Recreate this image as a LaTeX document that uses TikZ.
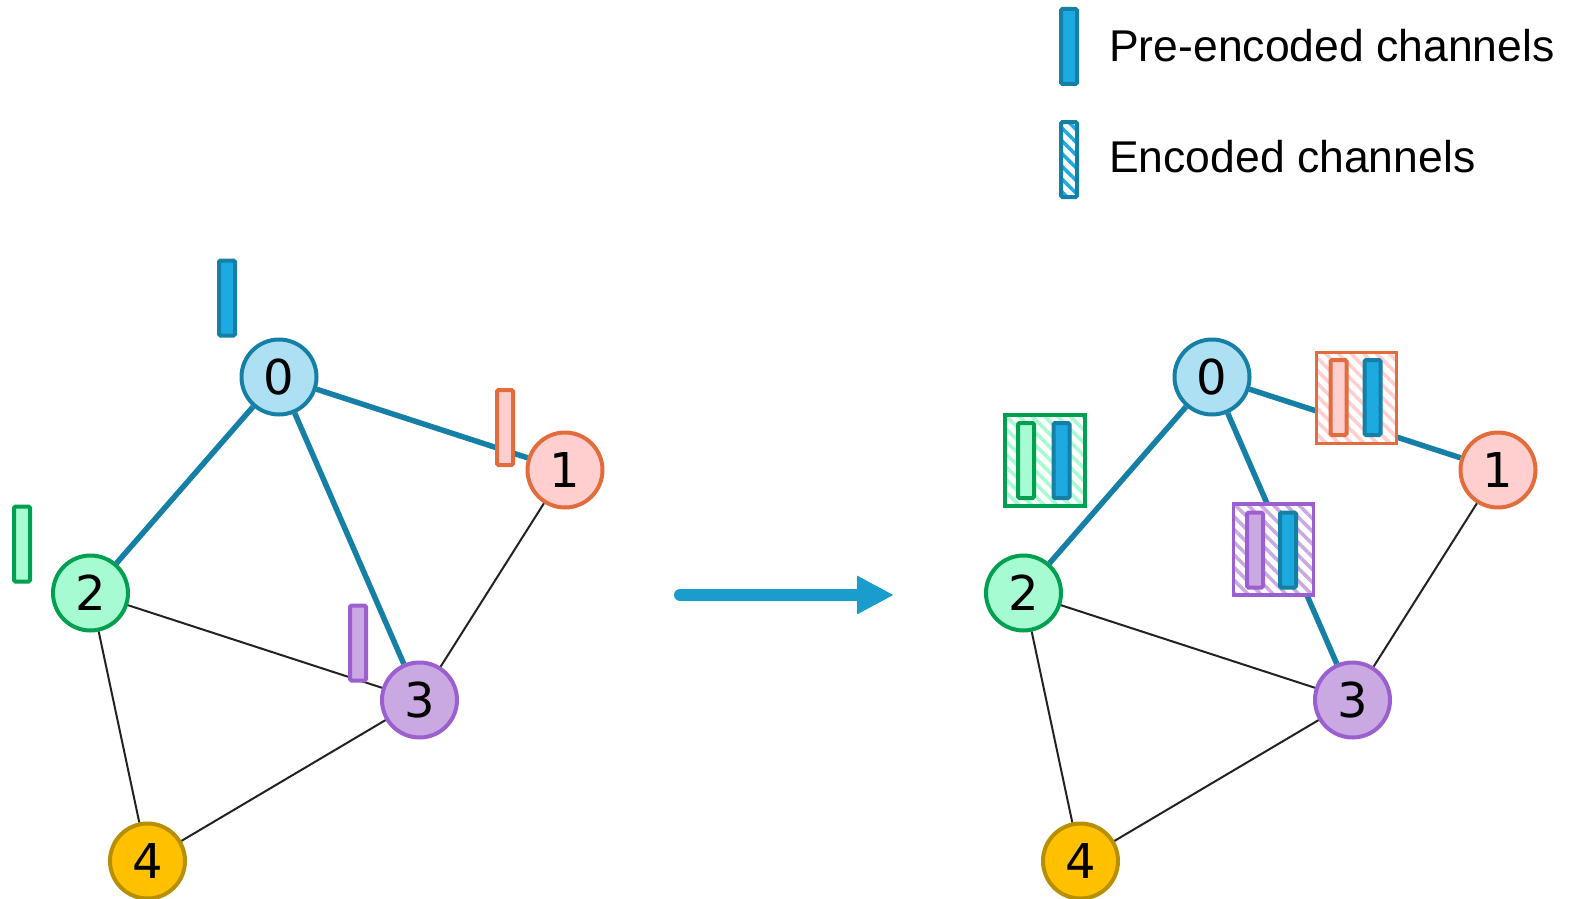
\documentclass[tikz,border=0pt]{standalone}
\usepackage{fontspec}
\setmainfont{Liberation Sans}
\newfontfamily\digitfont{DejaVu Sans}
\usetikzlibrary{arrows.meta,patterns.meta}
\definecolor{bstroke}{HTML}{157FA5}
\definecolor{bfill}{HTML}{AEE0F4}
\definecolor{bbar}{HTML}{1DAAE1}
\definecolor{ostroke}{HTML}{E36C3D}
\definecolor{ofill}{HTML}{FFCFCF}
\definecolor{gstroke}{HTML}{00A050}
\definecolor{gfill}{HTML}{A6FBD2}
\definecolor{pstroke}{HTML}{9B5FCF}
\definecolor{pfill}{HTML}{CAA9E3}
\definecolor{ystroke}{HTML}{B78F00}
\definecolor{yfill}{HTML}{FFC000}
\definecolor{arrowc}{HTML}{1A9CCC}
\definecolor{edgec}{HTML}{222222}
\tikzset{
  vert/.style={circle, minimum size=75pt, inner sep=0pt, line width=4pt,
    font=\digitfont\fontsize{48}{48}\selectfont, text=black},
  bar/.style={rectangle, minimum width=16pt, minimum height=75pt, inner sep=0pt,
    line width=4pt, rounded corners=1.5pt},
  hatch/.style={preaction={fill=white},
    pattern={Lines[angle=-45,distance=9pt,line width=3.5pt]}, pattern color=#1},
  encbox/.style={rectangle, minimum width=80pt, minimum height=91pt, inner sep=0pt,
    line width=3.5pt},
  thick edge/.style={line width=5.5pt, draw=bstroke},
  thin edge/.style={line width=2pt, draw=edgec},
  legend text/.style={anchor=base west, inner sep=0pt, font=\fontsize{44.5}{44.5}\selectfont}
}
\begin{document}
\begin{tikzpicture}[x=1pt,y=-1pt]
\useasboundingbox (0,0) rectangle (1588,899);

% legend
\node[bar, draw=bstroke, fill=bbar] (lg1) at (1069,46.5) {};
\node[bar, draw=bstroke, hatch=bbar] (lg2) at (1069,159.5) {};
\node[legend text] (lt1) at (1109,62) {Pre-encoded channels};
\node[legend text] (lt2) at (1109,172) {Encoded channels};

% left graph
\node[vert, draw=bstroke, fill=bfill] (L0) at (279,377) {0};
\node[vert, draw=ostroke, fill=ofill] (L1) at (565,470) {1};
\node[vert, draw=gstroke, fill=gfill] (L2) at (90.5,593) {2};
\node[vert, draw=pstroke, fill=pfill] (L3) at (419.5,700) {3};
\node[vert, draw=ystroke, fill=yfill] (L4) at (147.5,861) {4};
\draw[thick edge] (L0) -- (L1);
\draw[thick edge] (L0) -- (L2);
\draw[thick edge] (L0) -- (L3);
\draw[thin edge] (L1) -- (L3);
\draw[thin edge] (L2) -- (L3);
\draw[thin edge] (L2) -- (L4);
\draw[thin edge] (L3) -- (L4);
\node[bar, draw=bstroke, fill=bbar] (lb0) at (227,298) {};
\node[bar, draw=ostroke, fill=ofill] (lb1) at (505,427.5) {};
\node[bar, draw=gstroke, fill=gfill] (lb2) at (22,544) {};
\node[bar, draw=pstroke, fill=pfill] (lb3) at (358,643) {};

% arrow
\coordinate (as) at (680,595);
\coordinate (ae) at (894,595);
\draw[line width=12pt, arrowc, line cap=round, -{Triangle[length=37pt,width=36pt]}] (as) -- (ae);

% right graph
\node[vert, draw=bstroke, fill=bfill] (R0) at (1212,377) {0};
\node[vert, draw=ostroke, fill=ofill] (R1) at (1498,470) {1};
\node[vert, draw=gstroke, fill=gfill] (R2) at (1023.5,593) {2};
\node[vert, draw=pstroke, fill=pfill] (R3) at (1352.5,700) {3};
\node[vert, draw=ystroke, fill=yfill] (R4) at (1080.5,861) {4};
\draw[thick edge] (R0) -- (R1);
\draw[thick edge] (R0) -- (R2);
\draw[thick edge] (R0) -- (R3);
\draw[thin edge] (R1) -- (R3);
\draw[thin edge] (R2) -- (R3);
\draw[thin edge] (R2) -- (R4);
\draw[thin edge] (R3) -- (R4);

\node[encbox, draw=gstroke, hatch=gfill] (eg) at (1045,460.5) {};
\node[bar, draw=gstroke, fill=gfill] (eg1) at (1026,460.5) {};
\node[bar, draw=bstroke, fill=bbar] (eg2) at (1061.5,460.5) {};

\node[encbox, draw=ostroke, hatch=ofill] (eo) at (1356.5,398) {};
\node[bar, draw=ostroke, fill=ofill] (eo1) at (1338.5,397.5) {};
\node[bar, draw=bstroke, fill=bbar] (eo2) at (1372.5,397.5) {};

\node[encbox, draw=pstroke, hatch=pfill] (ep) at (1273.5,549.5) {};
\node[bar, draw=pstroke, fill=pfill] (ep1) at (1255,550) {};
\node[bar, draw=bstroke, fill=bbar] (ep2) at (1288,550) {};
\end{tikzpicture}
\end{document}
